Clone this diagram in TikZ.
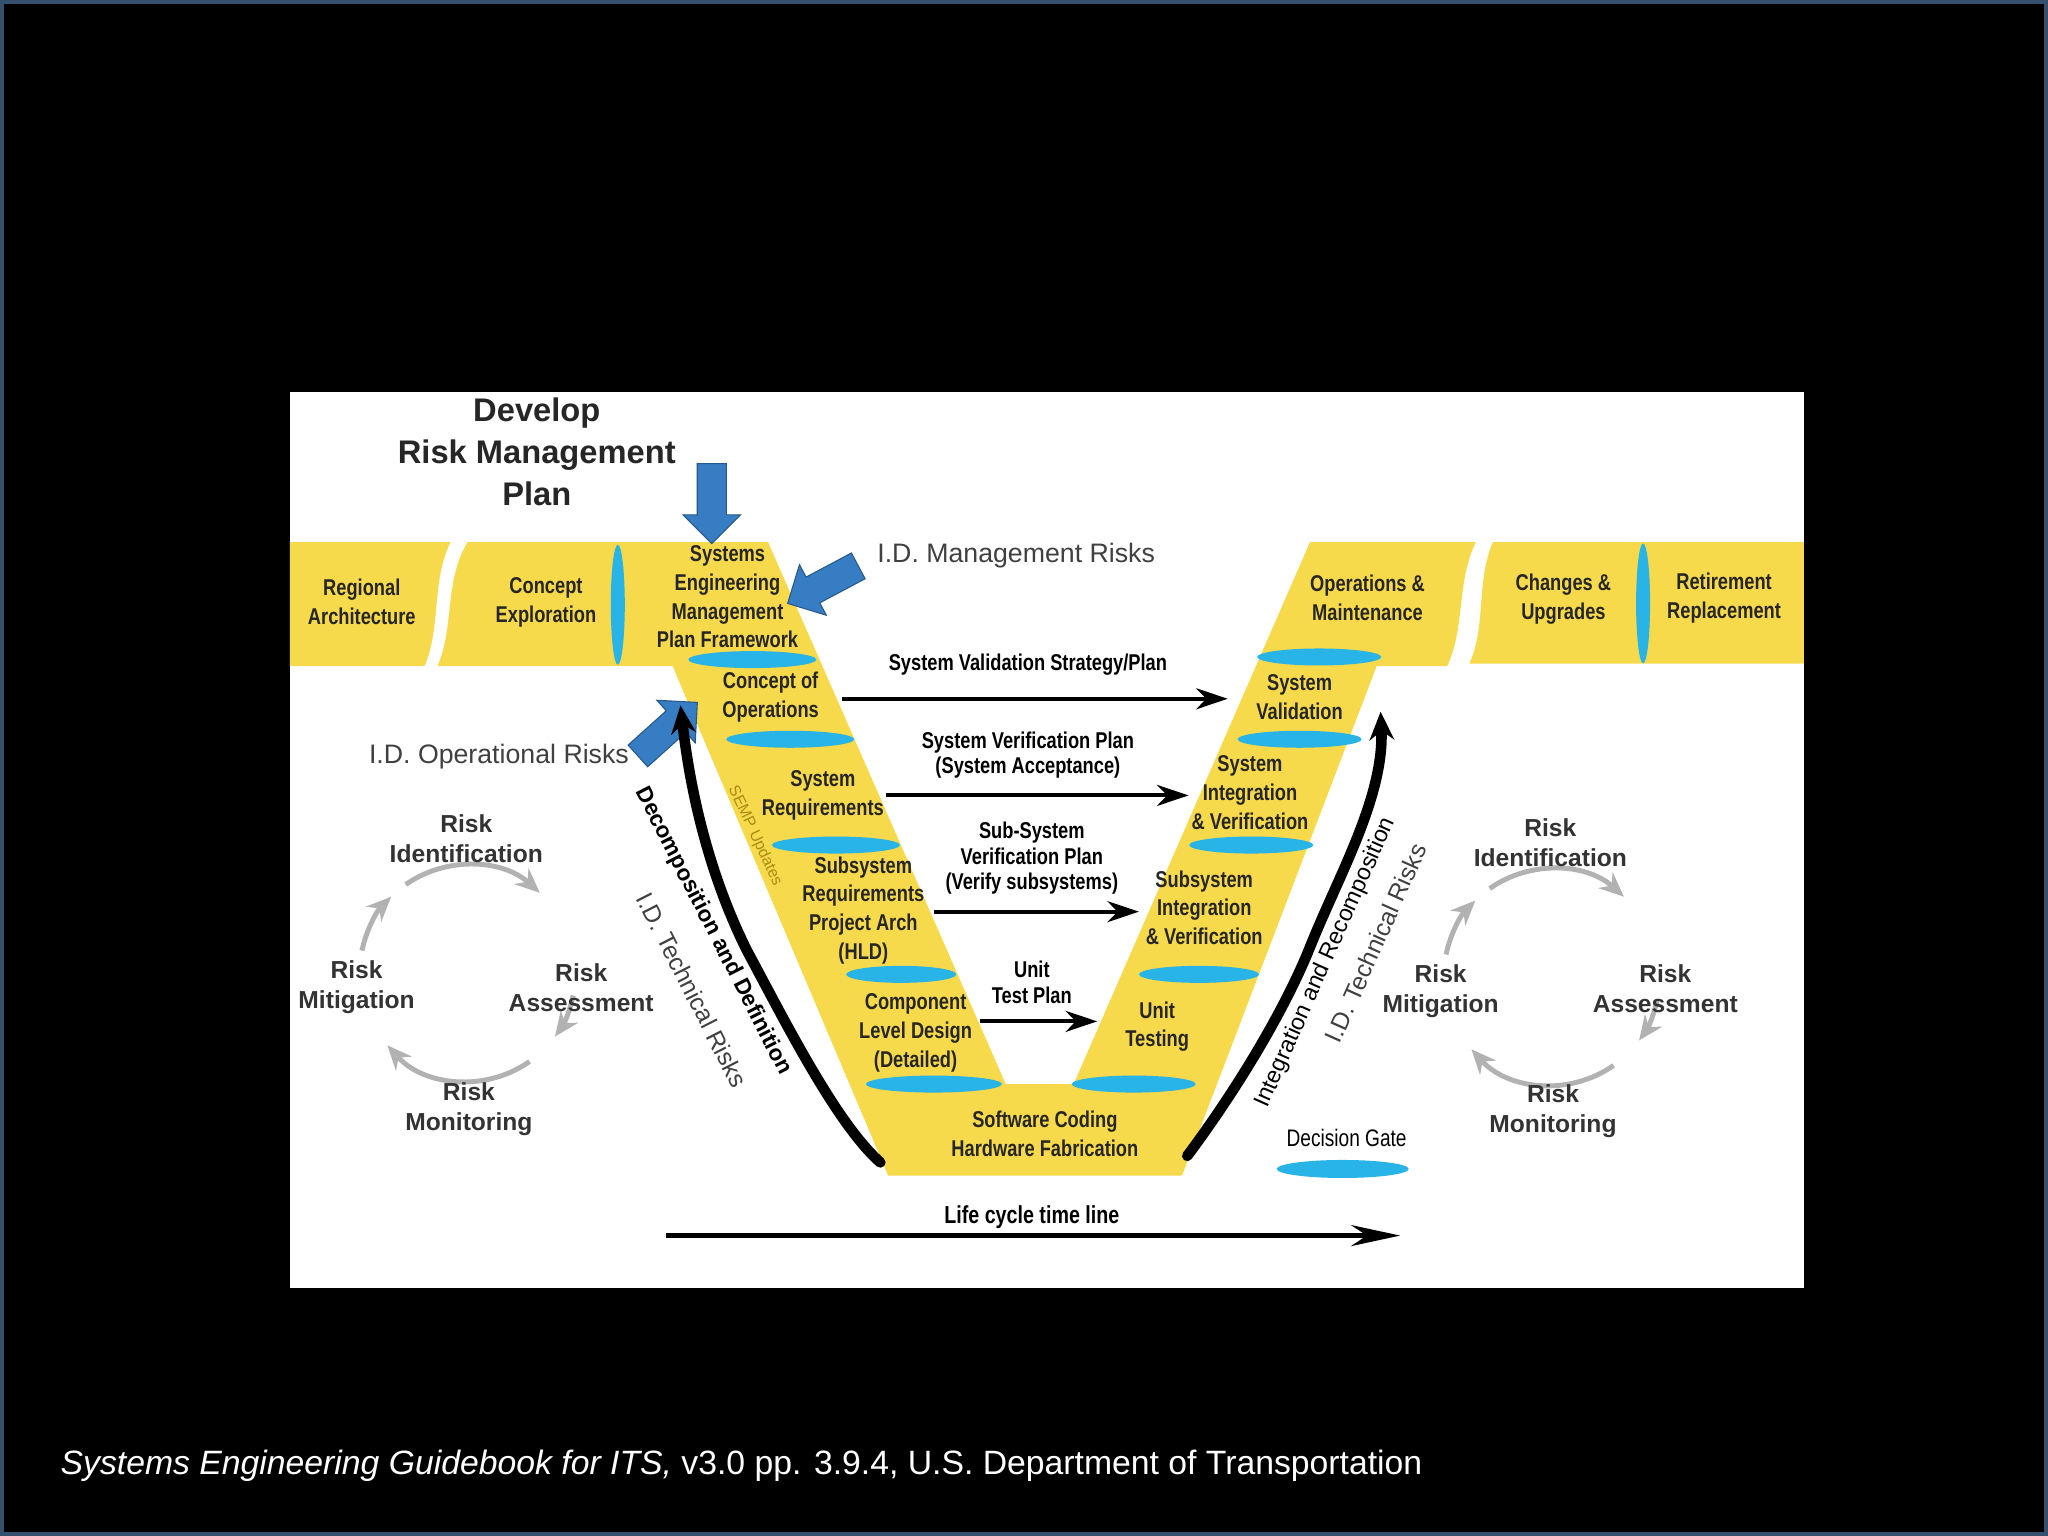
\documentclass[tikz,border=0pt]{standalone}
\usepackage{fontspec}
\setmainfont{Liberation Sans}
\newfontfamily\narrowf{Liberation Sans}[FakeStretch=0.8]
\usepackage{tikz}
\usetikzlibrary{arrows.meta,shapes.arrows,positioning,calc}

\definecolor{vyellow}{RGB}{247,217,76}
\definecolor{gatecyan}{RGB}{40,180,230}
\definecolor{riskblue}{RGB}{55,125,195}
\definecolor{frameblue}{RGB}{52,80,110}
\definecolor{sempgold}{RGB}{170,140,20}

\tikzset{
	box/.style = {align=center, font=\narrowf\bfseries\fontsize{6.5}{8.2}\selectfont, text=black!85},
	plan/.style = {align=center, font=\narrowf\bfseries\fontsize{6.5}{7.2}\selectfont},
	risk/.style = {align=center, font=\bfseries\fontsize{7}{8.5}\selectfont, text=black!80},
	side/.style = {font=\fontsize{7}{8}\selectfont, text=black!75},
	gate/.style = {fill=gatecyan},
	flow/.style = {-{Stealth[length=9pt,width=6pt]}, line width=1.1pt},
	bigblue/.style = {single arrow, fill=riskblue, draw=riskblue!70!black, line width=.3pt,
		single arrow head extend=4pt, minimum height=0.8cm, inner sep=4pt},
	cyc/.style = {-{Stealth[length=7pt,width=6pt]}, draw=black!30, line width=1.4pt},
	brace/.style = {-{Stealth[length=8pt,width=7pt]}, line width=3pt, line cap=round},
}

\begin{document}
\begin{tikzpicture}[x=0.013061cm, y=-0.013061cm]
	\useasboundingbox (0,0) rectangle (1568,1176);
	\fill[black] (0,0) rectangle (1568,1176);
	\draw[frameblue, line width=1.5pt] (1,1) rectangle (1567,1175);
	\fill[white] (222,300) rectangle (1381,986);

	% yellow band and V
	\fill[vyellow] (222,415) -- (345,415) .. controls (330,445) and (338,480) .. (325,510) -- (222,510) -- cycle;
	\fill[vyellow] (358,415) -- (588,415) -- (770,830) -- (822,830) -- (1003,415) -- (1130,415)
		.. controls (1115,445) and (1122,480) .. (1108,510) -- (1054,510) -- (905,900) -- (680,900)
		-- (515,510) -- (335,510) .. controls (348,480) and (340,445) .. (358,415) -- cycle;
	\fill[vyellow] (1143,415) -- (1381,415) -- (1381,508) -- (1125,508)
		.. controls (1138,480) and (1130,445) .. (1143,415) -- cycle;

	% decision gates
	\fill[gate] (473,463) ellipse [x radius=0.07cm, y radius=0.6cm];
	\fill[gate] (1258,462) ellipse [x radius=0.07cm, y radius=0.6cm];
	\foreach \gx/\gy/\gr in {576/505/0.64, 605/566/0.64, 640/647/0.64, 690/746/0.55, 715/830/0.68,
		1010/503/0.62, 995/566/0.62, 958/647/0.62, 918/746/0.6, 868/830/0.62}
		\fill[gate] (\gx,\gy) ellipse [x radius=\gr cm, y radius=0.085cm];

	% phase labels
	\node[box] (regional) at (277,461) {Regional\\Architecture};
	\node[box] (concept) at (418,461) {Concept\\Exploration};
	\node[box] (semp) at (557,457) {Systems\\Engineering\\Management\\Plan Framework};
	\node[box] (conops) at (590,534) {Concept of\\Operations};
	\node[box] (sysreq) at (630,609) {System\\Requirements};
	\node[box] (subreq) at (661,697) {Subsystem\\Requirements\\Project Arch\\(HLD)};
	\node[box] (compdes) at (701,791) {Component\\Level Design\\(Detailed)};
	\node[box] (coding) at (800,868) {Software Coding\\Hardware Fabrication};
	\node[box] (unittest) at (886,786) {Unit\\Testing};
	\node[box] (subint) at (922,695) {Subsystem\\Integration\\\& Verification};
	\node[box] (sysint) at (957,607) {System\\Integration\\\& Verification};
	\node[box] (sysval) at (995,534) {System\\Validation};
	\node[box] (ops) at (1047,458) {Operations \&\\Maintenance};
	\node[box] (changes) at (1197,459) {Changes \&\\Upgrades};
	\node[box] (retire) at (1320,458) {Retirement\\Replacement};

	% verification plans
	\coordinate (v1a) at (645,535); \coordinate (v1b) at (940,535);
	\coordinate (v2a) at (678,609); \coordinate (v2b) at (910,609);
	\coordinate (v3a) at (715,698); \coordinate (v3b) at (872,698);
	\coordinate (v4a) at (750,782); \coordinate (v4b) at (840,782);
	\draw[flow] (v1a) -- (v1b);
	\draw[flow] (v2a) -- (v2b);
	\draw[flow] (v3a) -- (v3b);
	\draw[flow] (v4a) -- (v4b);
	\node[plan] (valplan) at (787,509) {System Validation Strategy/Plan};
	\node[plan] (verplan) at (787,578) {System Verification Plan\\(System Acceptance)};
	\node[plan] (subplan) at (790,657) {Sub-System\\Verification Plan\\(Verify subsystems)};
	\node[plan] (unitplan) at (790,752) {Unit\\Test Plan};

	% life cycle
	\coordinate (lifea) at (510,946); \coordinate (lifeb) at (1072,946);
	\draw[-{Stealth[length=14pt,width=6pt]}, line width=1.2pt] (lifea) -- (lifeb);
	\node[plan, font=\narrowf\bfseries\fontsize{7}{8}\selectfont] (life) at (790,932) {Life cycle time line};

	% decision gate legend
	\node[font=\narrowf\fontsize{6.8}{8}\selectfont] (gatelbl) at (1031,871) {Decision Gate};
	\fill[gate] (1028,895) ellipse [x radius=0.66cm, y radius=0.09cm];

	% risk plan and blue arrows
	\node[font=\bfseries\fontsize{9.3}{11.9}\selectfont, align=center, text=black!85] (develop) at (411,346) {Develop\\Risk Management\\Plan};
	\node[bigblue, rotate=-90] (downarr) at (545,380) {};
	\node[bigblue, rotate=208] (mgmtarr) at (635,445) {};
	\node[bigblue, rotate=42] (oparr) at (507,562) {};
	\node[font=\fontsize{7.6}{9}\selectfont, text=black!75] (mgmtrisk) at (778,425) {I.D.\ Management Risks};
	\node[font=\fontsize{7.6}{9}\selectfont, text=black!75] (oprisk) at (382,579) {I.D.\ Operational Risks};

	% decomposition and integration
	\coordinate (decA) at (674,890); \coordinate (decB) at (521,540);
	\draw[brace] (decA) .. controls (640,860) and (600,780) .. (572,728)
		.. controls (548,680) and (530,620) .. (decB);
	\coordinate (intA) at (909,885); \coordinate (intB) at (1057,545);
	\draw[brace] (intA) .. controls (950,830) and (985,770) .. (1003,725)
		.. controls (1025,670) and (1060,610) .. (intB);
	\node[font=\bfseries\fontsize{6.4}{8}\selectfont, rotate=-63] (decomp) at (546,713) {Decomposition and Definition};
	\node[side, rotate=-63] (techL) at (530,758) {I.D. Technical Risks};
	\node[font=\fontsize{4.5}{5}\selectfont, text=sempgold, rotate=-65] (sempupd) at (578,640) {SEMP Updates};
	\node[font=\fontsize{6.6}{8}\selectfont, rotate=66] (integ) at (1015,737) {Integration and Recomposition};
	\node[side, rotate=66] (techR) at (1053,722) {I.D. Technical Risks};

	% risk cycles
	\foreach \cx/\cy/\tag in {358/745/L, 1188/748/R} {
		\coordinate (cyc\tag) at (\cx,\cy);
		\draw[cyc] (cyc\tag) ++(168:1.08cm) arc[start angle=168, end angle=135, radius=1.08cm];
		\draw[cyc] (cyc\tag) ++(125:1.08cm) arc[start angle=125, end angle=48, radius=1.08cm];
		\draw[cyc] (cyc\tag) ++(-12:1.08cm) arc[start angle=-12, end angle=-36, radius=1.08cm];
		\draw[cyc] (cyc\tag) ++(-55:1.08cm) arc[start angle=-55, end angle=-138, radius=1.08cm];
	}
	\node[risk] (identL) at (357,642) {Risk\\Identification};
	\node[risk] (mitL) at (273,756) {Risk\\Mitigation};
	\node[risk] (assessL) at (445,756) {Risk\\Assessment};
	\node[risk] (monL) at (359,849) {Risk\\Monitoring};
	\node[risk] (identR) at (1187,645) {Risk\\Identification};
	\node[risk] (mitR) at (1103,759) {Risk\\Mitigation};
	\node[risk] (assessR) at (1275,757) {Risk\\Assessment};
	\node[risk] (monR) at (1189,851) {Risk\\Monitoring};

	% source line
	\node[anchor=west, text=white, font=\fontsize{9.6}{11}\selectfont] (source) at (37,1122)
		{\textit{Systems Engineering Guidebook for ITS,} v3.0 pp. 3.9.4, U.S. Department of Transportation};
\end{tikzpicture}
\end{document}
